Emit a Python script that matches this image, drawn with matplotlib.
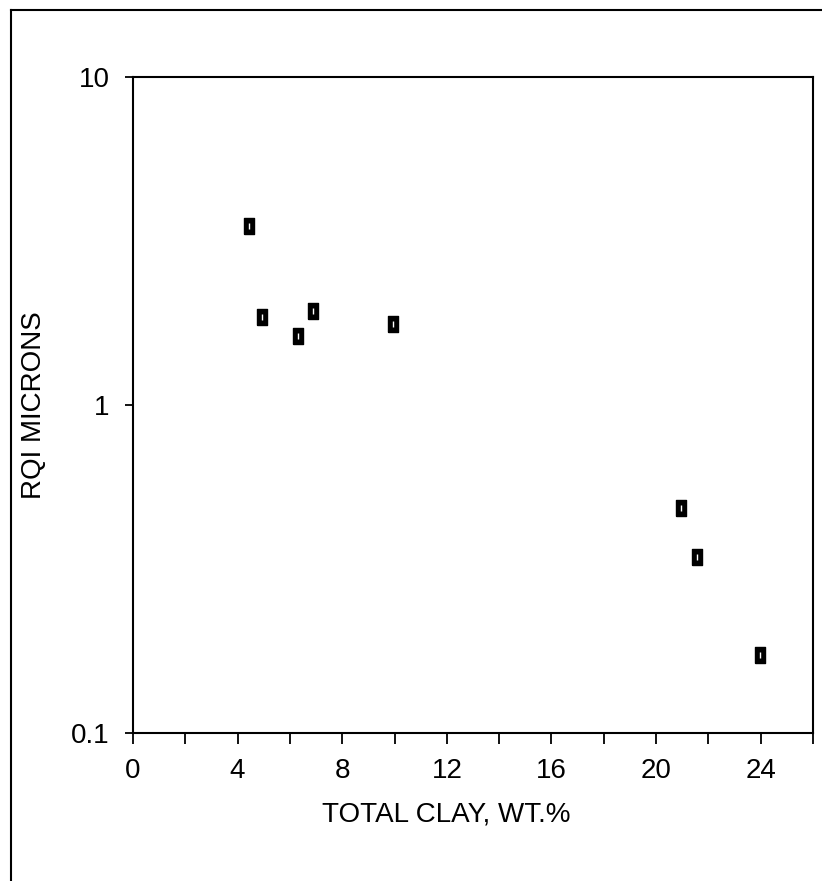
import numpy as np
import matplotlib.pyplot as plt
from matplotlib.ticker import FixedLocator, NullLocator, FixedFormatter

# donnees
clay = np.array([4.44, 4.93, 6.31, 6.88, 9.94, 20.96, 21.57, 23.98])
rqi = np.array([3.51, 1.85, 1.62, 1.93, 1.77, 0.485, 0.344, 0.173])

xticks_major = [0, 4, 8, 12, 16, 20, 24]
xticks_minor = [2, 6, 10, 14, 18, 22, 26]
yticks = [0.1, 1, 10]
ytick_labels = ["0.1", "1", "10"]

plt.rcParams['font.family'] = ['Liberation Sans', 'DejaVu Sans']

fig = plt.figure(figsize=(8.22, 8.81), dpi=100)
ax = fig.add_axes([133/822, 1-733/881, (813-133)/822, (733-77)/881])

# marqueur rectangulaire (plus haut que large)
rect = [(-0.35, -0.5), (0.35, -0.5), (0.35, 0.5), (-0.35, 0.5), (-0.35, -0.5)]
ax.plot(clay, rqi, linestyle='none', marker=rect, markersize=11,
        markerfacecolor='black', markeredgecolor='black', clip_on=False)
ax.plot(clay, rqi, linestyle='none', marker='|', markersize=5,
        markeredgecolor='white', markeredgewidth=1)

ax.set_yscale('log')
ax.set_xlim(0, 26)
ax.set_ylim(0.1, 10)

ax.xaxis.set_major_locator(FixedLocator(xticks_major))
ax.xaxis.set_minor_locator(FixedLocator(xticks_minor))
ax.yaxis.set_major_locator(FixedLocator(yticks))
ax.yaxis.set_major_formatter(FixedFormatter(ytick_labels))
ax.yaxis.set_minor_locator(NullLocator())

for s in ax.spines.values():
    s.set_linewidth(1.5)
ax.tick_params(axis='x', which='both', direction='out', length=8, width=1.3,
               labelsize=20, pad=10)
ax.tick_params(axis='y', which='major', direction='out', length=6, width=1.3,
               labelsize=20, pad=11)

ax.set_xlabel("TOTAL CLAY, WT.%", fontsize=20)
ax.xaxis.set_label_coords(0.46, -0.105)
ax.set_ylabel("RQI MICRONS", fontsize=20)
ax.yaxis.set_label_coords(-0.127, 0.5)

# cadre exterieur (haut et gauche)
fx = 11/822
fy = 1 - 10/881
fig.add_artist(plt.Line2D([fx, 1], [fy, fy], color='black', lw=1.5))
fig.add_artist(plt.Line2D([fx, fx], [0, fy], color='black', lw=1.5))

fig.savefig("out.png", dpi=100)
